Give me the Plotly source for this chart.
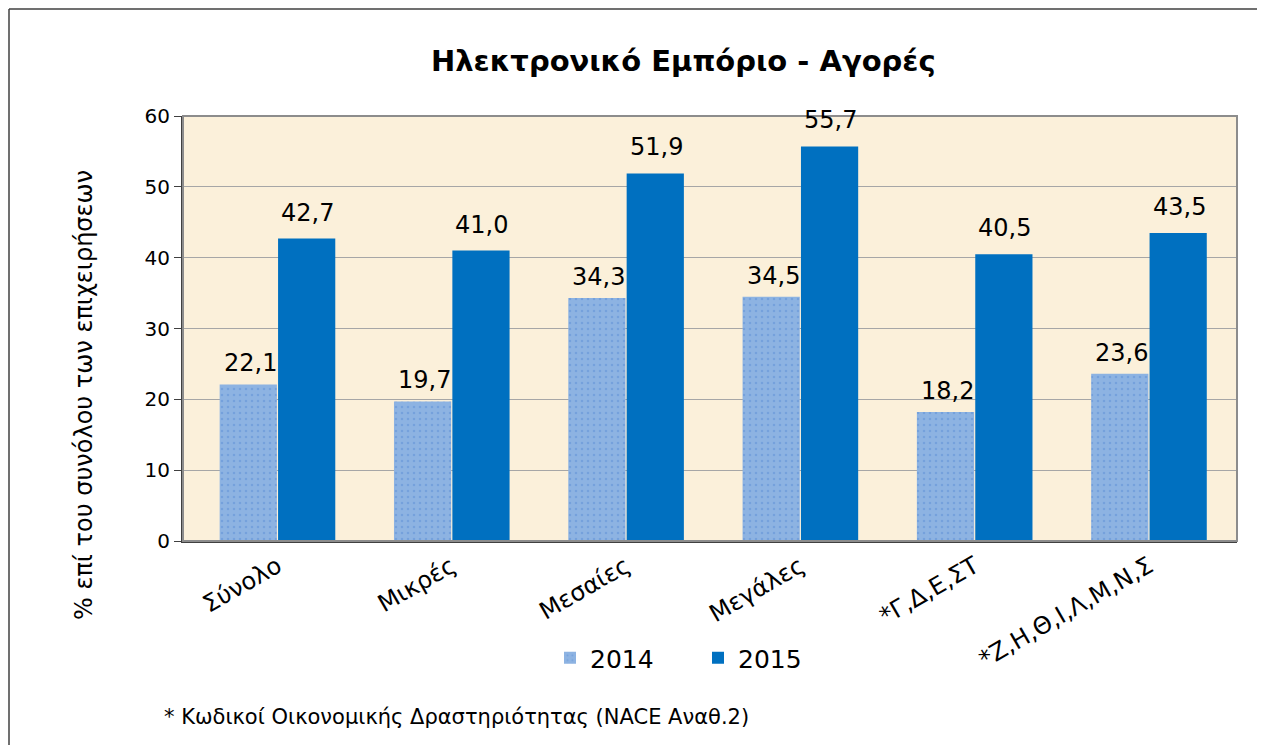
import plotly.graph_objects as go

categories = ["Σύνολο", "Μικρές", "Μεσαίες", "Μεγάλες", "*Γ,Δ,Ε,ΣΤ", "*Ζ,Η,Θ,Ι,Λ,Μ,Ν,Σ"]
values_2014 = [22.1, 19.7, 34.3, 34.5, 18.2, 23.6]
values_2015 = [42.7, 41.0, 51.9, 55.7, 40.5, 43.5]
labels_2014 = [f"{v:.1f}".replace(".", ",") for v in values_2014]
labels_2015 = [f"{v:.1f}".replace(".", ",") for v in values_2015]
y_ticks = [0, 10, 20, 30, 40, 50, 60]

FONT = "DejaVu Sans"
OFF = 8  # page body margin
W, H = 1265 - OFF, 745 - OFF
# plot area in screen pixels: x 183..1237, y 116..541
L, R, T, B = 183 - OFF, 1265 - 1237, 116 - OFF, 745 - 541
pw, ph = W - L - R, H - T - B

BARGAP, GROUPGAP = 0.33, 0.02
half_slot = (1 - BARGAP) / 4  # offset of each bar centre from the category centre


def px(x):
    return (x - OFF - L) / pw


def py(y):
    return (H - B - (y - OFF)) / ph


fig = go.Figure()
fig.add_trace(go.Bar(
    name="2014", x=categories, y=values_2014,
    marker=dict(color="#8DB3E2", line=dict(width=0),
                pattern=dict(shape=".", fgcolor="#5E8FD6", bgcolor="#8DB3E2",
                             size=6, solidity=0.15)),
))
fig.add_trace(go.Bar(
    name="2015", x=categories, y=values_2015,
    marker=dict(color="#0070C0", line=dict(width=0)),
))

annotations = []
for i, (v, t) in enumerate(zip(values_2014, labels_2014)):
    annotations.append(dict(x=i - half_slot, y=v, xref="x", yref="y", text=t,
                            showarrow=False, xanchor="center", yanchor="bottom",
                            xshift=2, yshift=5,
                            font=dict(family=FONT, size=24, color="#000000")))
for i, (v, t) in enumerate(zip(values_2015, labels_2015)):
    annotations.append(dict(x=i + half_slot, y=v, xref="x", yref="y", text=t,
                            showarrow=False, xanchor="center", yanchor="bottom",
                            xshift=1, yshift=10,
                            font=dict(family=FONT, size=24, color="#000000")))

annotations += [
    dict(text="<b>Ηλεκτρονικό Εμπόριο - Αγορές</b>", x=px(683), y=py(61),
         xref="paper", yref="paper", showarrow=False, xanchor="center", yanchor="middle",
         font=dict(family=FONT, size=29, color="#000000")),
    dict(text="% επί του συνόλου των επιχειρήσεων", x=px(84), y=py(395),
         xref="paper", yref="paper", showarrow=False, textangle=-90,
         xanchor="center", yanchor="middle",
         font=dict(family=FONT, size=24, color="#000000")),
    dict(text="* Κωδικοί Οικονομικής Δραστηριότητας (NACE Αναθ.2)", x=px(162), y=py(717),
         xref="paper", yref="paper", showarrow=False, xanchor="left", yanchor="middle",
         font=dict(family=FONT, size=21, color="#000000")),
]

fig.update_layout(
    width=W, height=H,
    margin=dict(l=L, r=R, t=T, b=B, autoexpand=False),
    paper_bgcolor="white",
    plot_bgcolor="#FBF0DA",
    barmode="group", bargap=BARGAP, bargroupgap=GROUPGAP,
    font=dict(family=FONT, color="#000000"),
    showlegend=True,
    legend=dict(orientation="h", x=px(550), y=py(658), xanchor="left", yanchor="middle",
                font=dict(family=FONT, size=25), itemwidth=30, traceorder="normal",
                entrywidth=103, entrywidthmode="pixels",
                bgcolor="rgba(0,0,0,0)"),
    xaxis=dict(tickangle=-30, tickfont=dict(family=FONT, size=24),
               range=[-0.542, 5.505],
               showline=True, linecolor="#404040", linewidth=2,
               ticks="", showgrid=False),
    yaxis=dict(range=[0, 60], tickvals=y_ticks, tickfont=dict(family=FONT, size=20),
               showline=True, linecolor="#404040", linewidth=2,
               ticks="outside", ticklen=7, tickcolor="#404040",
               showgrid=True, gridcolor="#A6A6A6", gridwidth=1, zeroline=False),
    annotations=annotations,
    shapes=[
        dict(type="rect", xref="paper", yref="paper", x0=0, x1=1, y0=0, y1=1,
             line=dict(color="#8C8C8C", width=2), layer="above"),
        dict(type="line", xref="paper", yref="paper", x0=px(9), x1=px(1275), y0=py(9), y1=py(9),
             line=dict(color="#404040", width=1.5), layer="above"),
        dict(type="line", xref="paper", yref="paper", x0=px(9), x1=px(9), y0=py(9), y1=py(760),
             line=dict(color="#404040", width=1.5), layer="above"),
    ],
)

fig.write_html("out.html")
